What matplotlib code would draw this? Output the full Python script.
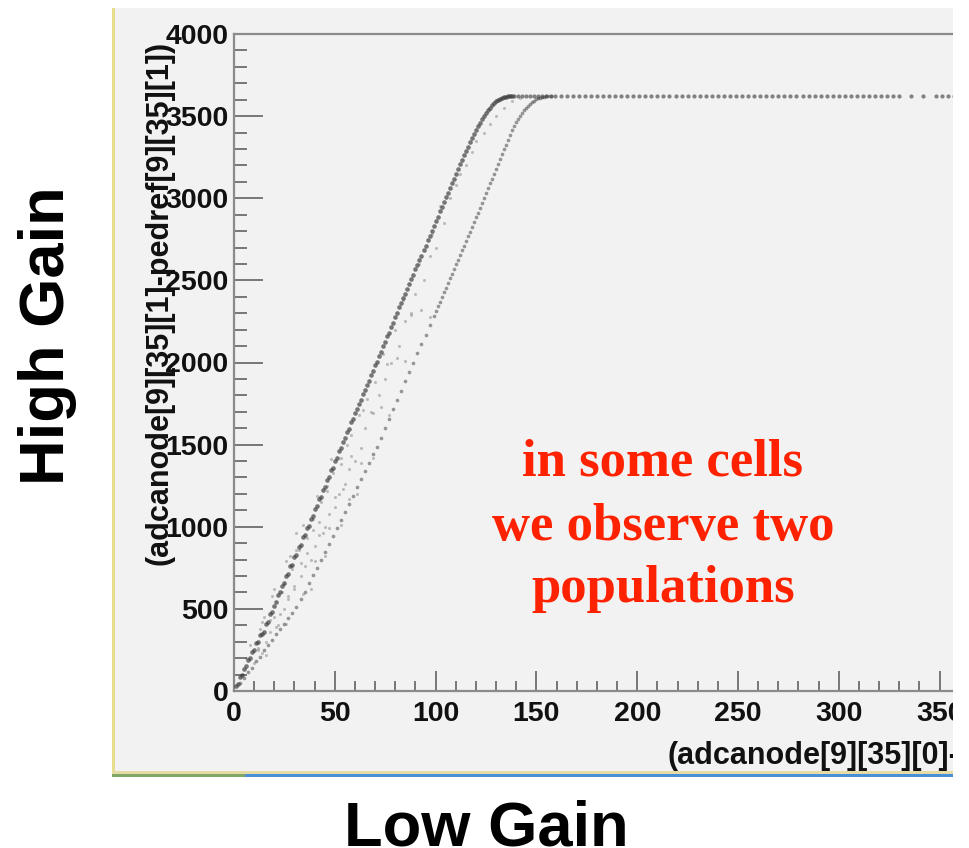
import matplotlib
matplotlib.use("Agg")
import matplotlib.pyplot as plt
from matplotlib.patches import Rectangle
from matplotlib.ticker import MultipleLocator

# upper population (steeper, narrow band)
pop_hi_x = [1, 2, 3, 4, 5, 6, 7, 8, 9, 10, 11, 12, 13, 14,
            15, 16, 17, 18, 19, 20, 21, 22, 23, 24, 25, 26, 27, 28, 29, 30,
            31, 32, 33, 34, 35, 36, 37, 38, 39, 40, 41, 42, 43, 44, 45, 46,
            47, 48, 49, 50, 51, 52, 53, 54, 55, 56, 57, 58, 59, 60, 61, 62,
            63, 64, 65, 66, 67, 68, 69, 70, 71, 72, 73, 74, 75, 76, 77, 78,
            79, 80, 81, 82, 83, 84, 85, 86, 87, 88, 89, 90, 91, 92, 93, 94,
            95, 96, 97, 98, 99, 100, 101, 102, 103, 104, 105, 106, 107, 108,
            109, 110, 111, 112, 113, 114, 115, 116, 117, 118, 119, 120, 121,
            122, 123, 124, 125, 126, 127, 128, 129, 130, 131, 132, 133, 134,
            135, 136, 137, 138]
pop_hi_y = [30, 45, 85, 95, 135, 150, 190, 200, 240, 250, 290, 300, 340, 345,
            360, 410, 420, 470, 480, 520, 540, 585, 600, 640, 655, 700, 715, 760, 770, 815,
            830, 875, 890, 935, 950, 990, 1005, 1050, 1065, 1110, 1125, 1170, 1180, 1225, 1240, 1285,
            1300, 1345, 1360, 1400, 1420, 1460, 1480, 1515, 1540, 1575, 1595, 1635, 1655, 1690, 1715, 1750,
            1770, 1810, 1830, 1865, 1890, 1925, 1950, 1985, 2005, 2040, 2065, 2100, 2125, 2160, 2180, 2215,
            2240, 2275, 2300, 2335, 2360, 2395, 2420, 2450, 2475, 2510, 2535, 2570, 2595, 2625, 2650, 2685,
            2710, 2745, 2770, 2800, 2830, 2860, 2885, 2920, 2945, 2975, 3005, 3035, 3060, 3095,
            3120, 3150, 3180, 3210, 3235, 3265, 3290, 3315, 3340, 3365, 3390, 3415, 3440,
            3460, 3480, 3500, 3520, 3535, 3550, 3565, 3578, 3590, 3600, 3607, 3612, 3616,
            3619, 3621, 3622, 3623]

# lower population (shifted band)
pop_lo_x = [3, 5, 7, 9, 11, 13, 15, 17, 19, 21, 23, 25, 27, 29, 31, 33, 35,
            37, 39, 41, 43, 45, 47, 49, 51, 53, 55, 57, 59, 61, 63, 65, 67,
            69, 71, 73, 75, 77, 79, 81, 83, 85, 87, 89, 91, 93, 95, 97, 99,
            100, 101, 102, 103, 104, 105, 106, 107, 108, 109, 110, 111, 112,
            113, 114, 115, 116, 117, 118, 119, 120, 121, 122, 123, 124, 125,
            126, 127, 128, 129, 130, 131, 132, 133, 134, 135, 136, 137, 138,
            139, 140, 141, 142, 143, 144, 145, 146, 147, 148, 149, 150, 151,
            152, 153, 154, 155, 156, 157]
pop_lo_y = [50, 80, 115, 140, 185, 210, 250, 280, 310, 350, 375, 410, 445, 475, 510, 560, 605,
            655, 705, 750, 800, 845, 895, 945, 990, 1040, 1090, 1140, 1190, 1240, 1290, 1340, 1390,
            1440, 1486, 1543, 1600, 1657, 1714, 1771, 1828, 1885, 1942, 1999, 2056, 2113, 2170, 2227, 2284,
            2312, 2341, 2370, 2398, 2427, 2455, 2484, 2512, 2541, 2569, 2598, 2626, 2655,
            2683, 2712, 2740, 2768, 2797, 2826, 2854, 2884, 2913, 2943, 2972, 3002, 3031,
            3061, 3090, 3120, 3149, 3179, 3208, 3238, 3267, 3297, 3326, 3356, 3385, 3413,
            3440, 3462, 3480, 3500, 3518, 3535, 3550, 3563, 3575, 3586, 3595, 3602, 3608,
            3612, 3616, 3619, 3621, 3622, 3623]

# diffuse events between and around the two bands
cloud_x = [8, 12, 14, 16, 18, 19, 22, 20, 25, 26, 27, 24, 30, 31, 33, 29, 35, 38, 32, 40,
           36, 42, 45, 39, 47, 43, 50, 52, 46, 55, 49, 57, 53, 60, 56, 63, 58, 65, 62, 68,
           66, 72, 70, 75, 78, 74, 82, 80, 85, 88, 84, 90, 94, 92, 97, 100, 98, 104, 102,
           107, 110, 112, 115, 118, 120, 124, 127, 130, 134, 138, 142,
           6, 10, 14, 12, 16, 13, 18, 21, 26, 15, 23, 20, 27, 30, 34, 38, 25,
           28, 33, 36, 40, 45, 31, 34, 39, 42, 47, 53, 44, 41, 46, 50, 54, 61, 57,
           48, 53, 58, 63, 69, 64, 69, 73, 77, 76, 81, 85, 88, 93, 97]
cloud_y = [280, 250, 420, 300, 360, 580, 400, 450, 500, 790, 560, 600, 620, 960, 700, 740, 760, 800, 860, 880,
           930, 950, 1000, 1050, 1080, 1150, 1120, 1200, 1250, 1260, 1330, 1350, 1420, 1400, 1500, 1480, 1560, 1600, 1680, 1700,
           1780, 1800, 1880, 1900, 2000, 2050, 2100, 2200, 2250, 2300, 2380, 2420, 2500, 2600, 2650, 2700, 2780, 2850, 2950,
           3000, 3080, 3150, 3200, 3280, 3350, 3400, 3450, 3500, 3550, 3590, 3610,
           200, 170, 230, 260, 220, 380, 430, 390, 410, 450, 470, 620, 580, 640, 590, 620, 650,
           820, 780, 840, 790, 820, 860, 1010, 980, 1030, 990, 1010, 960, 1190, 1220, 1180, 1230, 1200, 1170,
           1410, 1380, 1430, 1390, 1420, 1710, 1690, 1730, 1680, 1990, 2030, 2010, 2290, 2320, 2280]

# saturated high-gain events
plateau_x = [139, 141, 143, 145, 147, 149, 151, 153, 155, 157, 159, 162, 165, 168, 171,
             174, 177, 180, 183, 186, 189, 192, 195, 198, 201, 204, 207, 210, 213, 216,
             219, 222, 225, 228, 231, 234, 237, 240, 243, 246, 249, 252, 255, 258, 261,
             264, 267, 270, 273, 276, 279, 282, 285, 288, 291, 294, 297, 300, 303, 306,
             309, 312, 315, 318, 321, 324, 327, 330, 336, 342, 348, 351, 354, 357, 360,
             363, 366, 369, 372, 375, 378]
plateau_level = 3624

W, H = 970, 848


def fx(px):
    return px / W


def fy(py):
    return 1 - py / H


plt.rcParams['font.family'] = ['Liberation Sans', 'DejaVu Sans']
plt.rcParams['font.weight'] = 'bold'

fig = plt.figure(figsize=(9.7, 8.48), dpi=100)
fig.patch.set_facecolor('white')

# screenshot panel
fig.add_artist(Rectangle((fx(112), fy(776)), fx(970) - fx(112), fy(8) - fy(776),
                         transform=fig.transFigure, facecolor='#f2f2f2', edgecolor='none', zorder=0))
fig.add_artist(Rectangle((fx(112), fy(776)), fx(3), fy(8) - fy(776),
                         transform=fig.transFigure, facecolor='#e8df8c', edgecolor='none', zorder=0))
fig.add_artist(Rectangle((fx(112), fy(774)), fx(970) - fx(112), fy(771) - fy(774),
                         transform=fig.transFigure, facecolor='#e6dba4', edgecolor='none', zorder=0))
fig.add_artist(Rectangle((fx(112), fy(777)), fx(245) - fx(112), fy(774) - fy(777),
                         transform=fig.transFigure, facecolor='#7fa865', edgecolor='none', zorder=0))
fig.add_artist(Rectangle((fx(245), fy(777)), fx(970) - fx(245), fy(774) - fy(777),
                         transform=fig.transFigure, facecolor='#4b8fd6', edgecolor='none', zorder=0))

ax = fig.add_axes([fx(234), fy(691), 400 * 2.016 / W, (691 - 34) / H])
ax.set_facecolor('none')
ax.set_xlim(0, 400)
ax.set_ylim(0, 4000)

ax.scatter(cloud_x, cloud_y, s=5, c='#555555', alpha=0.35, linewidths=0, zorder=3)
ax.scatter(pop_lo_x, pop_lo_y, s=7, c='#3a3a3a', alpha=0.5, linewidths=0, zorder=3)
ax.scatter(pop_hi_x, pop_hi_y, s=11, c='#333333', alpha=0.65, linewidths=0, zorder=3)
ax.scatter(plateau_x, [plateau_level] * len(plateau_x), s=9, c='#444444', alpha=0.65,
           linewidths=0, zorder=3)

spine_col = '#8a8a8a'
for side in ['left', 'bottom', 'top']:
    ax.spines[side].set_color(spine_col)
    ax.spines[side].set_linewidth(1.6)
ax.spines['right'].set_visible(False)

ax.xaxis.set_major_locator(MultipleLocator(50))
ax.xaxis.set_minor_locator(MultipleLocator(10))
ax.yaxis.set_major_locator(MultipleLocator(500))
ax.yaxis.set_minor_locator(MultipleLocator(100))

tick_col = '#777777'
ax.tick_params(axis='y', which='major', direction='in', length=21, width=1.4,
               color=tick_col, pad=4, labelsize=20.5, labelcolor='#111111')
ax.tick_params(axis='y', which='minor', direction='in', length=9.5, width=1.4, color=tick_col)
ax.tick_params(axis='x', which='major', direction='in', length=14.4, width=1.4,
               color=tick_col, pad=7, labelsize=20.5, labelcolor='#111111')
ax.tick_params(axis='x', which='minor', direction='in', length=7.2, width=1.4, color=tick_col)
ax.tick_params(top=False, right=False, which='both')

# ROOT axis titles
fig.text(fx(160), fy(565), '(adcanode[9][35][1]-pedref[9][35][1])', rotation=90,
         ha='center', va='bottom', fontsize=22, color='#111111')
fig.text(fx(668), fy(764), '(adcanode[9][35][0]-pedref[9][35][0])',
         ha='left', va='baseline', fontsize=22, color='#111111')

# the screenshot is cropped on its right side
fig.add_artist(Rectangle((fx(953), 0), fx(970) - fx(953), 1, transform=fig.transFigure,
                         facecolor='white', edgecolor='none', zorder=10))

# slide labels
fig.text(fx(48), fy(336), 'High Gain', rotation=90, ha='center', va='center',
         fontsize=45.5, color='black')
fig.text(fx(486), fy(845), 'Low Gain', ha='center', va='baseline',
         fontsize=45.5, color='black')

red = '#ff2200'
for txt, base in [('in some cells', 475), ('we observe two', 540), ('populations', 602)]:
    fig.text(fx(663), fy(base), txt, ha='center', va='baseline', fontsize=38,
             color=red, family=['Liberation Serif', 'DejaVu Serif'])

fig.savefig('out.png', dpi=100)
